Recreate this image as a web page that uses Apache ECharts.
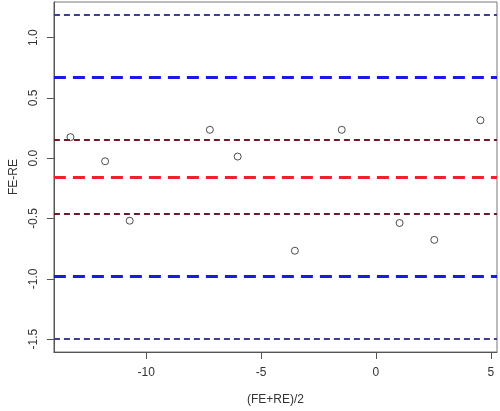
<!DOCTYPE html>
<html>
<head>
<meta charset="utf-8">
<script src="https://cdn.jsdelivr.net/npm/echarts@6/dist/echarts.min.js"></script>
<style>
  html, body { margin: 0; padding: 0; background: #fff; }
  #chart { width: 500px; height: 411px; }
</style>
</head>
<body>
<div id="chart"></div>
<script>
// 점 데이터 (평균, 차이)
const meanVals = [-13.30, -11.79, -10.72, -7.23, -6.02, -3.53, -1.49, 1.03, 2.54, 4.55];
const diffVals = [0.175, -0.025, -0.518, 0.236, 0.014, -0.767, 0.236, -0.537, -0.677, 0.315];

// 기준선 값
const biasLine = [-0.156];
const innerLines = [0.148, -0.455];
const loaLines = [0.665, -0.98];
const outerLines = [1.19, -1.50];

const xTicks = [-10, -5, 0, 5];
const yTicks = [-1.5, -1.0, -0.5, 0.0, 0.5, 1.0];

const font = 'Liberation Sans, Arial, sans-serif';

const hline = (vals, color, width, dash) => vals.map(v => ({
  yAxis: v,
  lineStyle: { color: color, width: width, type: dash }
}));

const chart = echarts.init(document.getElementById('chart'));

chart.setOption({
  animation: false,
  grid: {
    left: 51, right: 3, top: 2, bottom: 56,
    show: true,
    borderColor: '#777',
    borderWidth: 1
  },
  xAxis: {
    type: 'value',
    min: -14.02,
    max: 5.27,
    name: '(FE+RE)/2',
    nameLocation: 'middle',
    nameGap: 42,
    nameTextStyle: { fontFamily: font, fontSize: 12, color: '#333' },
    axisLine: { show: true, onZero: false, lineStyle: { color: '#555' } },
    axisTick: { show: true, inside: false, length: 7, customValues: xTicks, lineStyle: { color: '#555' } },
    axisLabel: {
      customValues: xTicks,
      margin: 15,
      fontFamily: font, fontSize: 12, color: '#333',
      formatter: v => String(v)
    },
    splitLine: { show: false }
  },
  yAxis: {
    type: 'value',
    min: -1.607,
    max: 1.296,
    name: 'FE-RE',
    nameLocation: 'middle',
    nameGap: 33,
    nameRotate: 90,
    nameTextStyle: { fontFamily: font, fontSize: 12, color: '#333' },
    axisLine: { show: true, onZero: false, lineStyle: { color: '#555' } },
    axisTick: { show: true, inside: false, length: 7, customValues: yTicks, lineStyle: { color: '#555' } },
    axisLabel: {
      customValues: yTicks,
      rotate: 90,
      margin: 14,
      fontFamily: font, fontSize: 12, color: '#333',
      formatter: v => v.toFixed(1)
    },
    splitLine: { show: false }
  },
  series: [{
    type: 'scatter',
    data: meanVals.map((x, i) => [x, diffVals[i]]),
    symbol: 'circle',
    symbolSize: 7,
    itemStyle: { color: 'transparent', borderColor: '#222', borderWidth: 1 },
    markLine: {
      silent: true,
      symbol: 'none',
      label: { show: false },
      data: [].concat(
        hline(outerLines, '#3d3d94', 2, [6, 4]),
        hline(loaLines, '#1a1ae6', 3, [12, 7]),
        hline(innerLines, '#701a28', 2, [6, 4]),
        hline(biasLine, '#e8242c', 3, [12, 7])
      )
    }
  }]
});
</script>
</body>
</html>
